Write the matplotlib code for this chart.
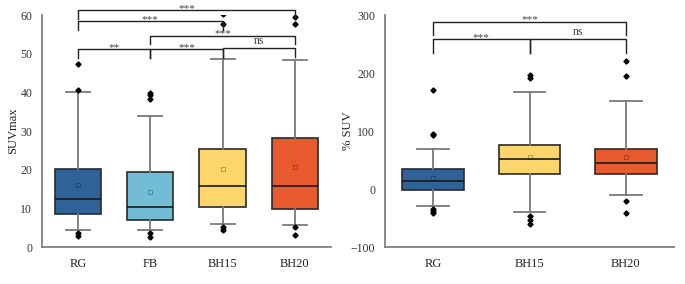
import matplotlib
matplotlib.use("Agg")
import matplotlib.pyplot as plt

plt.rcParams['font.family'] = ['Liberation Serif', 'DejaVu Serif']

# ---- left panel: SUVmax ----
groups_a = ["RG", "FB", "BH15", "BH20"]
q1_a = [8.6, 7.0, 10.3, 9.9]
med_a = [12.4, 10.3, 15.7, 15.7]
q3_a = [20.1, 19.3, 25.3, 28.2]
lo_a = [4.4, 4.4, 6.0, 5.7]
hi_a = [40.0, 33.8, 48.7, 48.5]
mean_a = [16.0, 14.2, 20.3, 20.8]
fliers_a = [[47.4, 40.5, 3.6, 2.8],
            [39.9, 39.3, 38.2, 3.6, 2.6],
            [60.2, 57.6, 5.2, 4.3],
            [59.5, 57.7, 5.1, 3.2]]
# brackets: (left, right, height, label)
brk_a = [(0, 1, 51.2, "**"), (1, 2, 51.2, "***"), (2, 3, 51.4, "ns"),
         (1, 3, 54.6, "***"), (0, 2, 58.4, "***"), (0, 3, 61.2, "***")]

# ---- right panel: % SUV ----
groups_b = ["RG", "BH15", "BH20"]
q1_b = [-2.4, 26.3, 26.3]
med_b = [13.1, 52.1, 45.2]
q3_b = [34.9, 75.6, 69.9]
lo_b = [-30.0, -40.3, -10.5]
hi_b = [69.4, 166.8, 151.9]
mean_b = [19.4, 55.0, 55.5]
fliers_b = [[170.8, 95.4, 93.1, -34.0, -38.0, -41.5],
            [197.0, 192.0, -47.0, -53.0, -60.5],
            [221.0, 195.0, -20.8, -41.5]]
brk_b = [(0, 1, 258, "***"), (1, 2, 258, "ns"), (0, 2, 288.4, "***")]

colors = {"RG": "#2F6297", "FB": "#72BCD6", "BH15": "#FCD56C", "BH20": "#E65A2E"}
mean_cols = {"RG": "#1F4670", "FB": "#3F8DAA", "BH15": "#B89A40", "BH20": "#A83E1E"}


def draw_panel(ax, groups, q1, med, q3, lo, hi, mean, fliers, brk, ylim, yticks,
               ylabel, leg, label_x):
    stats = []
    for i in range(len(groups)):
        stats.append(dict(q1=q1[i], med=med[i], q3=q3[i], whislo=lo[i],
                          whishi=hi[i], mean=mean[i], fliers=fliers[i]))
    pos = list(range(len(groups)))
    bp = ax.bxp(stats, positions=pos, widths=0.64, capwidths=0.33,
                patch_artist=True, showmeans=True,
                boxprops=dict(edgecolor="#2a2a2a", linewidth=1.2),
                medianprops=dict(color="#1a1a1a", linewidth=1.2),
                whiskerprops=dict(color="#7a7a7a", linewidth=1.3),
                capprops=dict(color="#7a7a7a", linewidth=1.3),
                flierprops=dict(marker="D", markersize=2.6, markerfacecolor="black",
                                markeredgecolor="black"),
                meanprops=dict(marker="s", markersize=3, markerfacecolor="none",
                               markeredgewidth=0.7))
    for i, g in enumerate(groups):
        bp["boxes"][i].set_facecolor(colors[g])
        bp["means"][i].set_markeredgecolor(mean_cols[g])
        bp["medians"][i].set_zorder(3)

    span = ylim[1] - ylim[0]
    for a, b, h, lab in brk:
        ax.plot([a, a, b, b], [h - leg, h, h, h - leg], color="#222222",
                linewidth=1.0, clip_on=False, zorder=4)
        if lab == "ns":
            ax.text((a + b) / 2, h + 0.006 * span, lab, ha="center", va="bottom",
                    fontsize=8.5, color="#444444")
        else:
            ax.text((a + b) / 2, h - 0.011 * span, lab, ha="center", va="bottom",
                    fontsize=8, color="#444444")

    ax.set_xlim(-0.5, len(groups) - 0.5)
    ax.set_ylim(*ylim)
    ax.set_yticks(yticks)
    ax.set_xticks(pos)
    ax.set_xticklabels(groups, fontsize=9)
    ax.tick_params(axis="y", labelsize=8.5, length=0, pad=7, colors="#333333")
    ax.tick_params(axis="x", length=0, pad=8, colors="#222222")
    ax.set_ylabel(ylabel, fontsize=9, color="#222222")
    ax.yaxis.set_label_coords(label_x, 0.5)
    for s in ["top", "right"]:
        ax.spines[s].set_visible(False)
    for s in ["left", "bottom"]:
        ax.spines[s].set_color("#7f7f7f")
        ax.spines[s].set_linewidth(1.3)


fig = plt.figure(figsize=(6.85, 2.84), dpi=100)
ax1 = fig.add_axes([0.0613, 0.130, 0.4219, 0.817])
ax2 = fig.add_axes([0.562, 0.130, 0.422, 0.817])

draw_panel(ax1, groups_a, q1_a, med_a, q3_a, lo_a, hi_a, mean_a, fliers_a, brk_a,
           (0, 60), [0, 10, 20, 30, 40, 50, 60], "SUVmax", 2.2, -0.080)
draw_panel(ax2, groups_b, q1_b, med_b, q3_b, lo_b, hi_b, mean_b, fliers_b, brk_b,
           (-100, 300), [-100, 0, 100, 200, 300], "% SUV", 23, -0.107)

fig.savefig("out.png", dpi=100)
